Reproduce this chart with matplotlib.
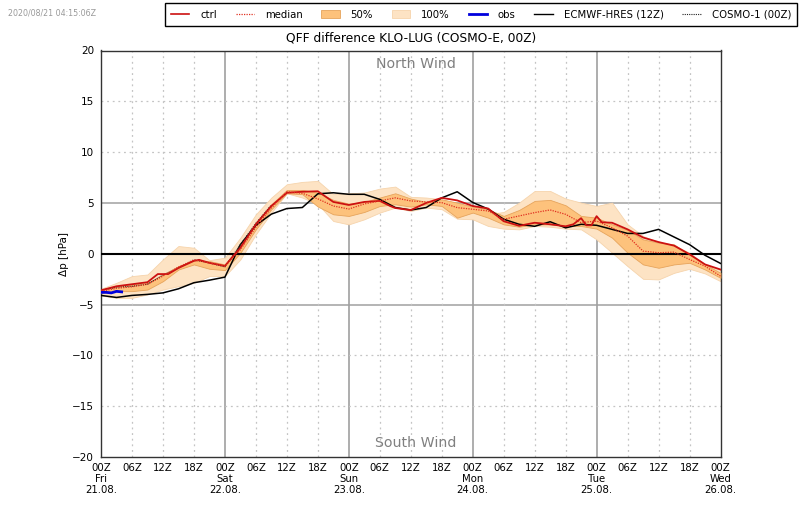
import matplotlib
matplotlib.use("Agg")
import matplotlib.pyplot as plt
from matplotlib.patches import Patch
from matplotlib.lines import Line2D

hours = list(range(0, 121, 3))
tick_hours = list(range(0, 121, 6))
tick_labels = ["00Z\nFri\n21.08.", "06Z", "12Z", "18Z", "00Z\nSat\n22.08.", "06Z", "12Z", "18Z",
               "00Z\nSun\n23.08.", "06Z", "12Z", "18Z", "00Z\nMon\n24.08.", "06Z", "12Z", "18Z",
               "00Z\nTue\n25.08.", "06Z", "12Z", "18Z", "00Z\nWed\n26.08."]

ctrl_hours = [0, 3, 6, 9, 11, 13, 15, 18, 19, 21, 24, 27, 30, 33, 36, 39, 42, 45, 48, 51, 54, 56, 57, 60,
              63, 66, 69, 72, 75, 78, 81, 84, 87, 90, 91.5, 93, 94, 95, 96, 97, 99, 102, 105, 108, 111, 114, 117, 120]
ctrl = [-3.6, -3.2, -3.0, -2.8, -2.0, -2.0, -1.4, -0.7, -0.6, -0.9, -1.2, 0.6, 2.9, 4.7, 6.0, 6.1, 6.15, 5.1, 4.8, 5.1, 5.2, 4.7, 4.5, 4.3,
        5.0, 5.5, 5.25, 4.7, 4.45, 3.2, 2.75, 3.05, 2.9, 2.7, 2.9, 3.5, 2.8, 2.8, 3.7, 3.1, 3.05, 2.4, 1.6, 1.15, 0.8, -0.05, -1.05, -1.55]
median = [-3.7, -3.4, -3.25, -3.0, -2.2, -1.3, -0.6, -0.9, -1.2, 0.4, 2.6, 4.5, 6.1, 5.95, 5.4, 4.7, 4.4, 4.9, 5.2, 5.5, 5.2,
          5.1, 5.03, 4.54, 4.38, 4.21, 3.39, 3.72, 4.05, 4.31, 3.88, 3.06, 3.22, 2.56, 1.74, 0.26, 0.1, 0.16, -0.56, -1.22, -2.2]
hres = [-4.1, -4.3, -4.1, -4.0, -3.85, -3.45, -2.85, -2.6, -2.3, 0.9, 2.8, 3.9, 4.45, 4.55, 5.9, 6.0, 5.85, 5.85, 5.35, 4.55, 4.3,
        4.55, 5.5, 6.1, 5.05, 4.4, 3.4, 2.9, 2.7, 3.15, 2.55, 2.9, 2.8, 2.4, 2.0, 2.0, 2.4, 1.65, 0.9, -0.15, -0.95]
cosmo1_hours = hours[:12]
cosmo1 = [-3.6, -3.3, -3.2, -3.0, -2.1, -1.4, -0.6, -0.9, -1.3, 0.9, 3.0, 4.8]
p100_hi = [-3.45, -2.86, -2.2, -2.04, -0.56, 0.76, 0.59, -0.63, -0.39, 1.58, 3.88, 5.53, 6.84, 7.07, 7.17, 5.86, 5.95, 6.02, 6.41, 6.61, 5.6,
           5.53, 5.36, 4.7, 4.38, 3.9, 4.11, 5.03, 6.18, 6.18, 5.43, 5.03, 4.7, 5.03, 2.89, 1.74, 1.15, 0.82, 0.1, -1.05, -1.55]
p100_lo = [-4.11, -4.34, -4.34, -4.0, -3.52, -3.19, -2.86, -2.2, -2.2, -0.56, 1.91, 4.05, 5.95, 5.53, 4.87, 3.22, 2.89, 3.39, 4.05, 4.54, 4.21,
           4.54, 4.38, 3.45, 3.39, 2.73, 2.47, 2.4, 2.73, 2.66, 2.47, 2.4, 1.41, 0.1, -1.22, -2.47, -2.53, -1.88, -1.48, -1.94, -2.7]
p50_hi = [-3.52, -3.19, -3.03, -2.86, -2.04, -1.22, -0.63, -0.72, -1.05, 0.82, 3.06, 4.87, 6.28, 6.28, 6.02, 5.3, 4.93, 5.1, 5.53, 5.95, 5.43,
          5.1, 5.36, 5.03, 4.64, 4.38, 3.72, 4.31, 5.2, 5.3, 4.77, 3.72, 3.55, 2.89, 2.34, 1.41, 1.09, 0.92, -0.07, -1.05, -1.88]
p50_lo = [-3.85, -3.68, -3.68, -3.52, -2.7, -1.55, -1.05, -1.48, -1.61, 0.1, 2.4, 4.38, 5.95, 5.86, 4.64, 3.88, 3.72, 4.11, 4.7, 4.87, 4.64,
          4.87, 4.7, 3.55, 4.05, 3.55, 2.89, 2.66, 2.89, 2.89, 2.73, 2.73, 2.47, 1.58, 0.1, -1.05, -1.38, -1.05, -0.89, -1.55, -2.37]
obs_hours = [0, 1, 2, 3, 4]
obs = [-3.8, -3.8, -3.85, -3.7, -3.75]

y_ticks = [-20, -15, -10, -5, 0, 5, 10, 15, 20]

plt.rcParams["font.family"] = "DejaVu Sans"
fig = plt.figure(figsize=(8.0, 5.09), dpi=100)
ax = fig.add_axes([101 / 800, 1 - 457 / 509, 619.5 / 800, 406.5 / 509])

ax.fill_between(hours, p100_lo, p100_hi, color="#fde3c4", lw=0.6, ec="#f6d4ac", zorder=2)
ax.fill_between(hours, p50_lo, p50_hi, color="#fdc27c", lw=0.6, ec="#e6a45c", zorder=3)
ax.plot(hours, hres, color="black", lw=1.1, zorder=5)
ax.plot(cosmo1_hours, cosmo1, color="#222222", lw=0.8, ls=(0, (1, 1)), zorder=5)
ax.plot(ctrl_hours, ctrl, color="#cc1111", lw=1.3, zorder=6)
ax.plot(hours, median, color="#e03020", lw=0.9, ls=(0, (1, 1)), zorder=6)
ax.plot(obs_hours, obs, color="#0000dd", lw=2.0, zorder=7)

ax.axhline(0, color="black", lw=1.5, zorder=4)
for v in (-5, 5):
    ax.axhline(v, color="#a8a8a8", lw=1.2, zorder=1)
for h in range(24, 120, 24):
    ax.axvline(h, color="#a0a0a0", lw=1.2, zorder=1)
for h in range(0, 121, 6):
    if h % 24:
        ax.axvline(h, color="#c4c4c4", lw=0.9, ls=(0, (1.5, 3)), zorder=1)
for v in (-15, -10, 10, 15):
    ax.axhline(v, color="#c4c4c4", lw=0.9, ls=(0, (1.5, 3)), zorder=1)

ax.set_xlim(0, 120)
ax.set_ylim(-20, 20)
ax.set_xticks(tick_hours)
ax.set_xticklabels(tick_labels, fontsize=7.3, linespacing=1.14)
ax.set_yticks(y_ticks)
ax.tick_params(axis="y", labelsize=7.5, length=0, pad=5)
ax.tick_params(axis="x", length=0, pad=4)
for s in ax.spines.values():
    s.set_color("#333333")
    s.set_linewidth(1.0)
ax.set_ylabel("Δp [hPa]", fontsize=7.5, labelpad=2)
ax.set_title("QFF difference KLO-LUG (COSMO-E, 00Z)", fontsize=8.8, pad=6.5)
ax.text(61, 18.67, "North Wind", color="#808080", fontsize=10.2, ha="center", va="center")
ax.text(61, -18.6, "South Wind", color="#808080", fontsize=10.2, ha="center", va="center")

handles = [
    Line2D([], [], color="#cc1111", lw=1.2),
    Line2D([], [], color="#e03020", lw=0.9, ls=(0, (1, 1))),
    Patch(fc="#fdc27c", ec="#e6a45c", lw=0.6),
    Patch(fc="#fde3c4", ec="#f6d4ac", lw=0.6),
    Line2D([], [], color="#0000dd", lw=2.0),
    Line2D([], [], color="black", lw=1.0),
    Line2D([], [], color="#222222", lw=0.8, ls=(0, (1, 1))),
]
labels = ["ctrl", "median", "50%", "100%", "obs", "ECMWF-HRES (12Z)", "COSMO-1 (00Z)"]
leg = fig.legend(handles, labels, ncol=7, loc="upper left", bbox_to_anchor=(165 / 800, 1 - 3.5 / 509),
                 fontsize=7.25, frameon=True, fancybox=False, edgecolor="black", framealpha=1,
                 columnspacing=1.87, handlelength=1.8, handletextpad=1.1, borderaxespad=0, borderpad=0.6)
leg.get_frame().set_linewidth(1.0)

fig.text(8 / 800, 1 - 12.5 / 509, "2020/08/21 04:15:06Z", color="#999999", fontsize=5.7, va="center")
fig.savefig("out.png", dpi=100)
